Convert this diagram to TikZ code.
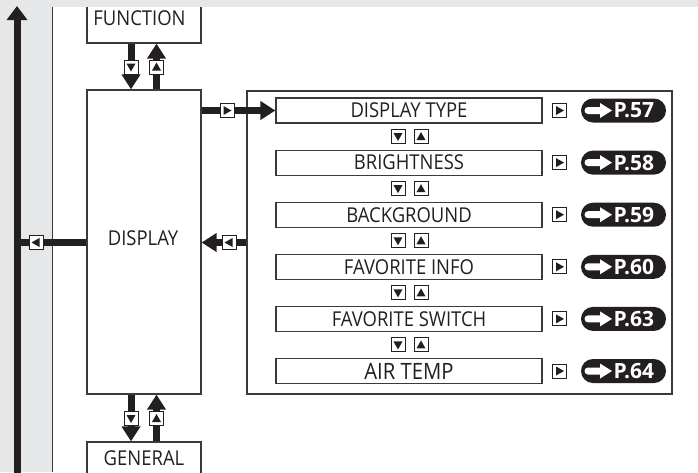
\documentclass[tikz,border=0pt]{standalone}
\usepackage{fontspec}
\setmainfont{Open Sans}[FakeStretch=0.9]
\newfontfamily\pillfont{Open Sans}
\usetikzlibrary{arrows.meta,calc}
\definecolor{bggray}{HTML}{E6E7E8}
\definecolor{ink}{HTML}{231F20}
\definecolor{boxline}{HTML}{3A3A3A}
\tikzset{
  box/.style={draw=boxline, line width=1.2pt, fill=white, inner sep=0pt, font=\fontsize{20.5}{22}\selectfont, text=ink},
  rowbox/.style={box, minimum width=266pt, minimum height=25pt},
  conn/.style={draw=ink, line width=7pt},
  tip/.style={-{Triangle[width=18pt,length=15pt]}},
  icon/.style={draw=ink, line width=1pt, fill=white, minimum size=14pt, inner sep=0pt},
  iconD/.style={icon, path picture={\fill[ink] ([shift={(-4.5pt,3.5pt)}]path picture bounding box.center) -- ++(9pt,0pt) -- ++(-4.5pt,-8pt) -- cycle;}},
  iconU/.style={icon, path picture={\fill[ink] ([shift={(-4.5pt,-3.5pt)}]path picture bounding box.center) -- ++(9pt,0pt) -- ++(-4.5pt,8pt) -- cycle;}},
  iconR/.style={icon, path picture={\fill[ink] ([shift={(-3.5pt,4.5pt)}]path picture bounding box.center) -- ++(0pt,-9pt) -- ++(8pt,4.5pt) -- cycle;}},
  iconL/.style={icon, path picture={\fill[ink] ([shift={(3.5pt,4.5pt)}]path picture bounding box.center) -- ++(0pt,-9pt) -- ++(-8pt,4.5pt) -- cycle;}},
  pill/.style={fill=ink, rounded corners=12pt, minimum height=24pt, text width=61pt, align=right, inner xsep=12pt, inner ysep=0pt,
    text=white, font=\pillfont\bfseries\fontsize{21}{24}\selectfont,
    path picture={\fill[white, sharp corners] ([shift={(7pt,3.5pt)}]path picture bounding box.west) -- ++(12pt,0pt) -- ++(0pt,4pt) -- ++(12pt,-7.5pt) -- ++(-12pt,-7.5pt) -- ++(0pt,4pt) -- ++(-12pt,0pt) arc[start angle=270, end angle=90, radius=3.5pt] -- cycle;}},
}
\begin{document}
\begin{tikzpicture}[x=1pt,y=-1pt]
\useasboundingbox (0,0) rectangle (698,472);
\clip (0,0) rectangle (698,472);
\fill[white] (0,0) rectangle (698,472);
\fill[bggray] (0,0) rectangle (52,472);

% left boxes
\node[box, minimum width=114pt, minimum height=49pt] (func) at (144,18.5) {FUNCTION\hspace*{9pt}};
\node[box, minimum width=114pt, minimum height=304pt] (disp) at (144,242) {};
\node[font=\fontsize{20.5}{22}\selectfont, text=ink, inner sep=0pt] (disptext) at (143,238.5) {DISPLAY};
\node[box, minimum width=114pt, minimum height=32pt] (gen) at (144,458) {GENERAL};

% menu panel
\node[box, minimum width=425pt, minimum height=303pt] (menu) at (459.5,242.5) {};

\foreach \i/\txt/\pg in {1/DISPLAY TYPE/57, 2/BRIGHTNESS/58, 3/BACKGROUND/59, 4/FAVORITE INFO/60, 5/FAVORITE SWITCH/63}{
  \pgfmathsetmacro{\yy}{110.5+52.1*(\i-1)}
  \node[rowbox] (row\i) at (409,\yy) {\txt};
  \node[iconR] (go\i) at (559.5,\yy) {};
  \node[pill] (pill\i) at (623.5,\yy) {P.\pg};
}
\node[rowbox, font=\fontsize{22.5}{24}\selectfont] (row6) at (409,371) {AIR TEMP};
\node[iconR] (go6) at (559.5,371) {};
\node[pill] (pill6) at (623.5,371) {P.64};
\foreach \i in {1,...,5}{
  \pgfmathsetmacro{\yy}{110.5+52.1*(\i-1)+26.05}
  \node[iconD] (dn\i) at (398,\yy) {};
  \node[iconU] (up\i) at (421,\yy) {};
}

% top band and panel border
\fill[bggray] (0,0) rectangle (698,7);
\draw[boxline, line width=1.4pt] (52.5,7) -- (52.5,472);

% connectors
\coordinate (vtop) at (17,6);
\coordinate (vbot) at (17,480);
\coordinate (vjoin) at (17,242.5);
\draw[conn, -{Triangle[width=20pt,length=14pt]}] (vbot) -- (vtop);

\draw[conn, tip] ([xshift=-13pt]func.south) -- ([xshift=-13pt]disp.north);
\draw[conn, tip] ([xshift=12.5pt]disp.north) -- ([xshift=12.5pt]func.south);
\draw[conn, tip] ([xshift=-13pt]disp.south) -- ([xshift=-13pt]gen.north);
\draw[conn, tip] ([xshift=12.5pt]gen.north) -- ([xshift=12.5pt]disp.south);
\draw[conn, tip] (disp.east |- row1.west) -- (row1.west);
\draw[conn, tip] (menu.west) -- (disp.east |- menu.west);
\draw[conn] (disp.west |- menu.west) -- (vjoin);

\node[iconD] (fd) at (131,67) {};
\node[iconU] (fu) at (156.5,67) {};
\node[iconD] (gd) at (131,418.5) {};
\node[iconU] (gu) at (156.5,418.5) {};
\node[iconR] (dr) at (227,110.5) {};
\node[iconL] (ml) at (229,242.5) {};
\node[iconL] (dl) at (36,242.5) {};
\end{tikzpicture}
\end{document}
